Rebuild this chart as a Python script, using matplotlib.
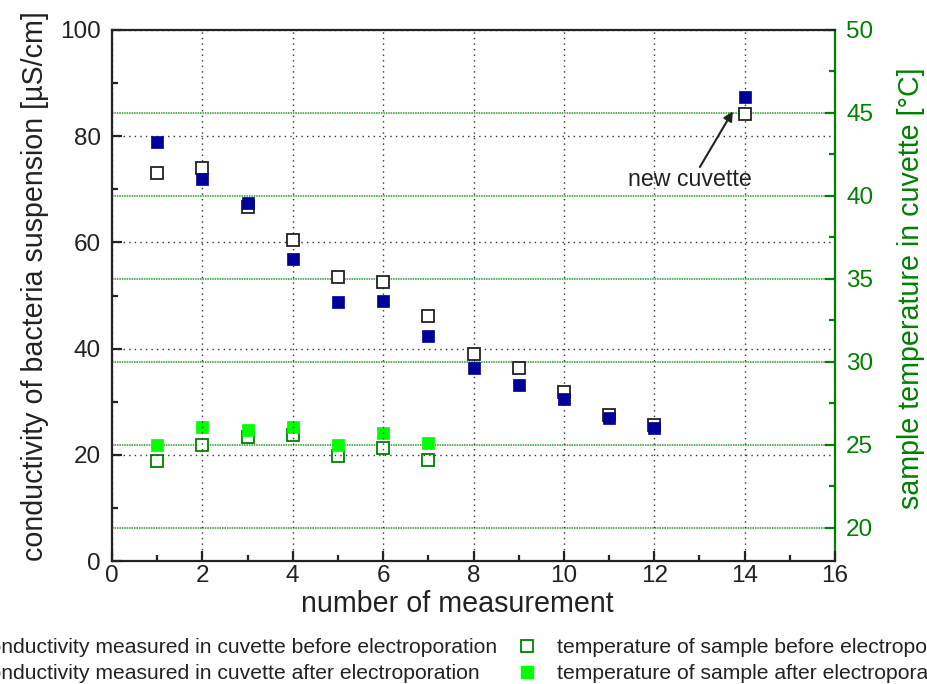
import matplotlib
matplotlib.use("Agg")
import matplotlib.pyplot as plt
from matplotlib.ticker import MultipleLocator
from matplotlib.lines import Line2D

plt.rcParams['font.family'] = ['Liberation Sans', 'DejaVu Sans']

# conductivity data (left axis)
meas = [1, 2, 3, 4, 5, 6, 7, 8, 9, 10, 11, 12, 14]
cond_before = [73.1, 74.0, 66.7, 60.5, 53.5, 52.5, 46.1, 39.0, 36.4, 31.8, 27.5, 25.6, 84.2]
cond_after = [78.9, 71.9, 67.4, 56.9, 48.8, 49.0, 42.4, 36.4, 33.1, 30.5, 26.9, 25.0, 87.4]

# temperature data (right axis)
tmeas = [1, 2, 3, 4, 5, 6, 7]
temp_before = [24.0, 25.0, 25.5, 25.6, 24.3, 24.8, 24.1]
temp_after = [25.0, 26.1, 25.9, 26.1, 25.0, 25.7, 25.1]

labels = ["conductivity measured in cuvette before electroporation",
          "conductivity measured in cuvette after electroporation",
          "temperature of sample before electroporation",
          "temperature of sample after electroporation"]

navy = '#000099'
lime = '#00ff00'
dgreen = '#008000'
txt = '#222222'
W, H = 927, 684

fig = plt.figure(figsize=(W / 100, H / 100), dpi=100)
ax = fig.add_axes([112 / W, 1 - 561 / H, (835 - 112) / W, (561 - 30) / H])
ax2 = ax.twinx()
ax.set_zorder(ax2.get_zorder() + 1)
ax.patch.set_visible(False)

ms = 9.2
ax.plot(meas, cond_before, 's', ms=ms, mfc='white', mec=txt, mew=1.3, zorder=3)
ax.plot(meas, cond_after, 's', ms=ms, mfc=navy, mec=navy, mew=0.5, zorder=4)
ax2.plot(tmeas, temp_before, 's', ms=ms, mfc='white', mec=dgreen, mew=1.3, zorder=3)
ax2.plot(tmeas, temp_after, 's', ms=ms, mfc=lime, mec=lime, mew=0.5, zorder=4)

ax.set_xlim(0, 16)
ax.set_ylim(0, 100)
ax2.set_ylim(18, 50)

ax.xaxis.set_major_locator(MultipleLocator(2))
ax.xaxis.set_minor_locator(MultipleLocator(1))
ax.yaxis.set_major_locator(MultipleLocator(20))
ax.yaxis.set_minor_locator(MultipleLocator(10))
ax2.set_yticks([20, 25, 30, 35, 40, 45, 50])
ax2.yaxis.set_minor_locator(MultipleLocator(2.5))

ax.grid(True, which='major', color='#333333', linestyle=(0, (1, 3)), linewidth=1.0)
ax2.grid(True, which='major', axis='y', color='#2a9a2a', linestyle=(0, (1, 0.6)), linewidth=1.1)

for s in ax.spines.values():
    s.set_linewidth(1.6)
    s.set_color(txt)
ax2.spines['right'].set_color(dgreen)
ax2.spines['right'].set_linewidth(1.6)
for k in ['left', 'top', 'bottom']:
    ax2.spines[k].set_visible(False)
ax.spines['right'].set_visible(False)

ax.tick_params(axis='both', which='major', direction='in', length=7, width=1.6,
               labelsize=17.5, colors=txt, top=False, right=False)
ax.tick_params(axis='y', which='major', pad=8)
ax.tick_params(axis='x', which='major', pad=3)
ax.tick_params(axis='both', which='minor', direction='in', length=4, width=1.6,
               top=False, right=False, colors=txt)
ax2.tick_params(axis='y', which='major', direction='in', length=7, width=1.6,
                labelsize=17.5, colors=dgreen, pad=8)
ax2.tick_params(axis='y', which='minor', direction='in', length=4, width=1.6, colors=dgreen)

ax.set_xlabel("number of measurement", fontsize=20.6, color=txt, labelpad=2)
ax.set_ylabel("conductivity of bacteria suspension [µS/cm]", fontsize=20.6, color=txt, labelpad=8)
ax2.set_ylabel("sample temperature in cuvette [°C]", fontsize=20.6, color=dgreen, labelpad=17)
ax.xaxis.label.set_x(0.478)
ax.yaxis.label.set_y(0.517)
ax2.yaxis.label.set_y(0.513)

ax.text(12.79, 71.9, "new cuvette", fontsize=16.7, color=txt, ha='center', va='center')
ax.annotate("", xy=(13.74, 84.7), xytext=(13.01, 74.2),
            arrowprops=dict(arrowstyle='-|>', color=txt, lw=1.5,
                            mutation_scale=14, shrinkA=0, shrinkB=0))

h1 = [Line2D([], [], ls='none', marker='s', ms=ms, mfc='white', mec=txt, mew=1.3),
      Line2D([], [], ls='none', marker='s', ms=ms, mfc=navy, mec=navy)]
h2 = [Line2D([], [], ls='none', marker='s', ms=ms, mfc='white', mec=dgreen, mew=1.3),
      Line2D([], [], ls='none', marker='s', ms=ms, mfc=lime, mec=lime)]
leg1 = fig.legend(h1, labels[:2], loc='upper right', bbox_to_anchor=(497 / W, 1 - 638 / H),
                  frameon=False, fontsize=15.2, borderpad=0, borderaxespad=0,
                  handlelength=1.0, handletextpad=1.2, labelspacing=0.35)
leg2 = fig.legend(h2, labels[2:], loc='upper left', bbox_to_anchor=(516 / W, 1 - 638 / H),
                  frameon=False, fontsize=15.2, borderpad=0, borderaxespad=0,
                  handlelength=1.0, handletextpad=0.95, labelspacing=0.35)
for t in leg1.get_texts() + leg2.get_texts():
    t.set_color(txt)

fig.savefig("out.png", dpi=100)
